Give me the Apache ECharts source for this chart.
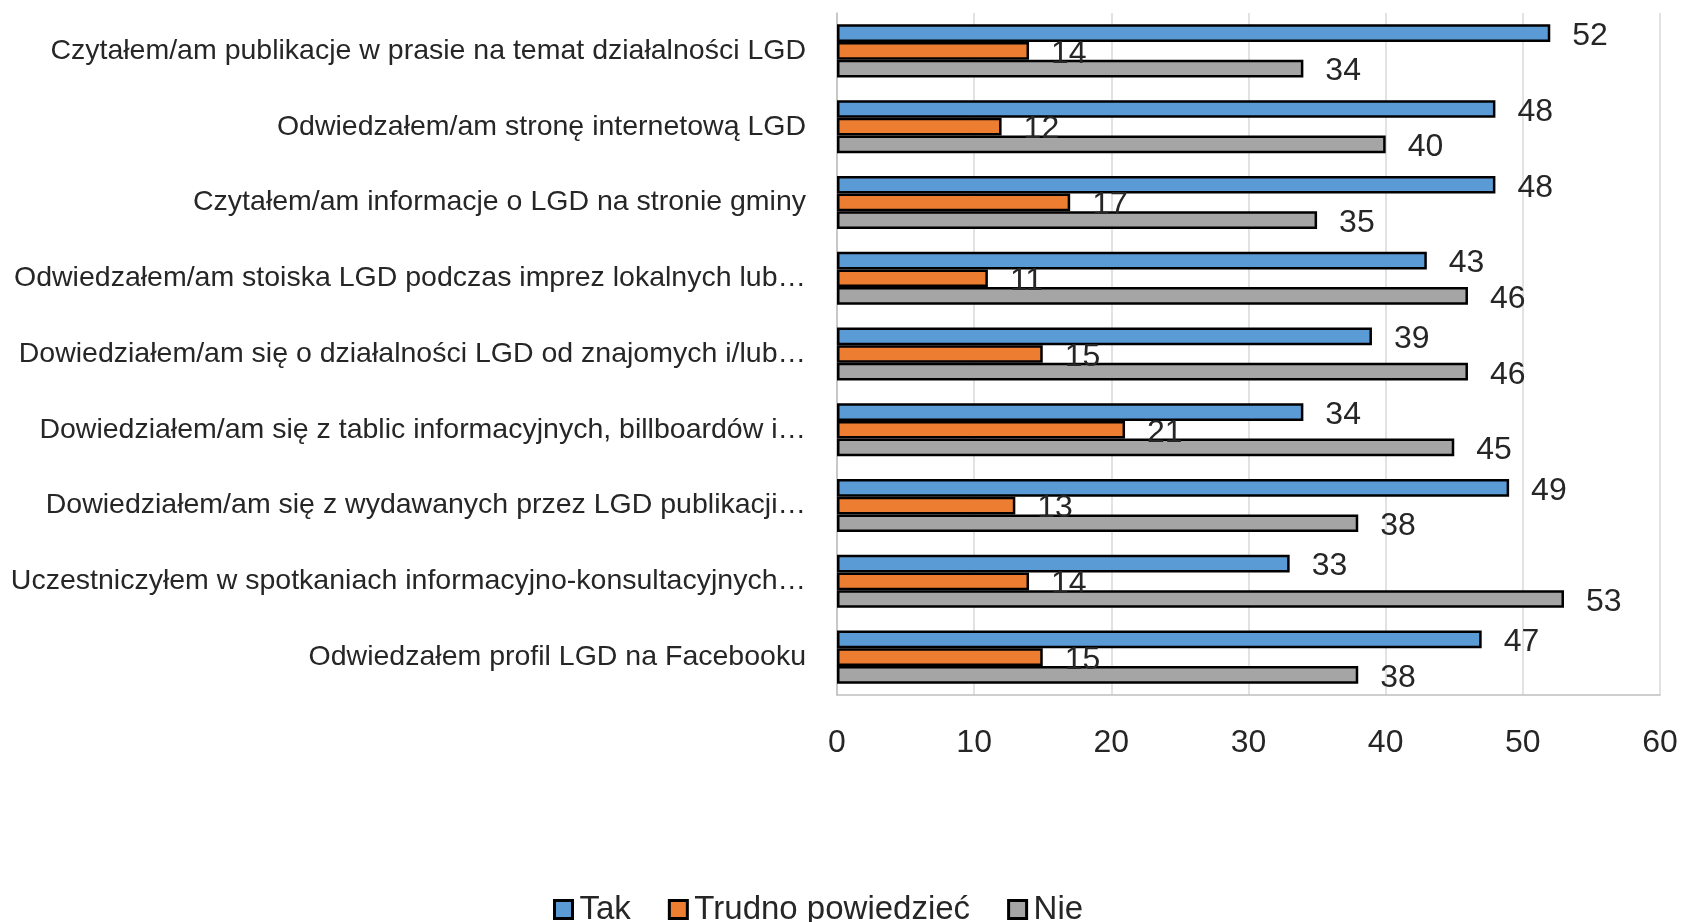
<!DOCTYPE html>
<html>
<head>
<meta charset="utf-8">
<script src="https://cdn.jsdelivr.net/npm/echarts@6/dist/echarts.min.js"></script>
<style>
  html, body { margin: 0; padding: 0; background: #fff; }
  #chart { width: 1685px; height: 922px; }
</style>
</head>
<body>
<div id="chart"></div>
<script>
// kategorie od góry do dołu
const categories = [
  'Czytałem/am publikacje w prasie na temat działalności LGD',
  'Odwiedzałem/am stronę internetową LGD',
  'Czytałem/am informacje o LGD na stronie gminy',
  'Odwiedzałem/am stoiska LGD podczas imprez lokalnych lub…',
  'Dowiedziałem/am się o działalności LGD od znajomych i/lub…',
  'Dowiedziałem/am się z tablic informacyjnych, billboardów i…',
  'Dowiedziałem/am się z wydawanych przez LGD publikacji…',
  'Uczestniczyłem w spotkaniach informacyjno-konsultacyjnych…',
  'Odwiedzałem profil LGD na Facebooku'
];
const tak = [52, 48, 48, 43, 39, 34, 49, 33, 47];
const trudno = [14, 12, 17, 11, 15, 21, 13, 14, 15];
const nie = [34, 40, 35, 46, 46, 45, 38, 53, 38];
const xTicks = [0, 10, 20, 30, 40, 50, 60];

const font = '"Liberation Sans", Arial, sans-serif';
const textColor = '#262626';

var myChart = echarts.init(document.getElementById('chart'));

function barSeries(name, data, color) {
  return {
    name: name,
    type: 'bar',
    data: data,
    barGap: '0%',
    barCategoryGap: '30%',
    itemStyle: { color: color, borderColor: '#000', borderWidth: 2.5 },
    label: {
      show: true,
      position: 'right',
      distance: 22,
      offset: [0, 3],
      color: textColor,
      fontFamily: font,
      fontSize: 32
    }
  };
}

var option = {
  animation: false,
  backgroundColor: '#fff',
  grid: { left: 837, right: 25, top: 13, bottom: 227, containLabel: false, outerBoundsMode: 'none' },
  legend: {
    left: 548,
    top: 888,
    itemWidth: 18,
    itemHeight: 18,
    itemGap: 37,
    icon: 'rect',
    itemStyle: { borderColor: '#000', borderWidth: 3 },
    textStyle: { color: textColor, fontFamily: font, fontSize: 33, padding: [0, 0, 0, 2] },
    data: ['Tak', 'Trudno powiedzieć', 'Nie']
  },
  xAxis: {
    type: 'value',
    min: xTicks[0],
    max: xTicks[xTicks.length - 1],
    interval: 10,
    axisLine: { show: true, lineStyle: { color: '#bfbfbf', width: 1.5 } },
    axisTick: { show: false },
    axisLabel: { color: textColor, fontFamily: font, fontSize: 32, margin: 32 },
    splitLine: { show: true, lineStyle: { color: '#d9d9d9', width: 1.5 } }
  },
  yAxis: {
    type: 'category',
    inverse: true,
    data: categories,
    axisLine: { show: true, lineStyle: { color: '#bfbfbf', width: 1.5 } },
    axisTick: { show: false },
    axisLabel: { color: textColor, fontFamily: font, fontSize: 28.5, margin: 31 }
  },
  series: [
    barSeries('Tak', tak, '#5b9bd5'),
    barSeries('Trudno powiedzieć', trudno, '#ed7d31'),
    barSeries('Nie', nie, '#a5a5a5')
  ]
};
myChart.setOption(option);
</script>
</body>
</html>
